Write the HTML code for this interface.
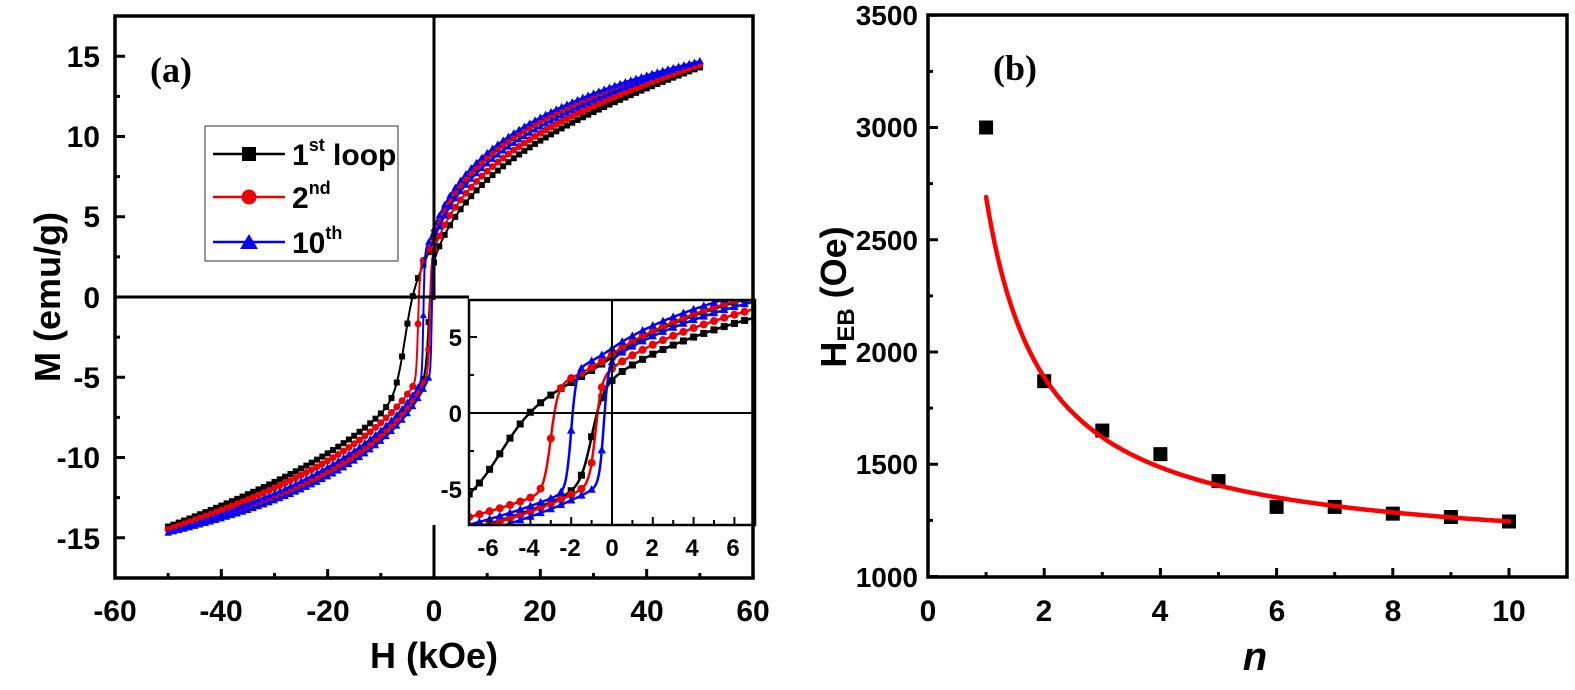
<!DOCTYPE html>
<html><head><meta charset="utf-8"><style>
html,body{margin:0;padding:0;background:#fff;}
svg{display:block;}
text{font-family:"Liberation Sans",Arial,sans-serif;font-weight:bold;fill:#000;}
</style></head><body>
<svg id="s" width="1575" height="690" viewBox="0 0 1575 690" xmlns="http://www.w3.org/2000/svg">
<defs>
<clipPath id="ca"><rect x="115" y="16" width="638" height="562"/></clipPath>
<clipPath id="ci"><rect x="469" y="300" width="284" height="225"/></clipPath>
</defs>
<g id="main" clip-path="url(#ca)"></g>
<rect x="469" y="300" width="286" height="225" fill="#fff"/>
<g id="inset" clip-path="url(#ci)"></g>
<g id="axes"></g>
<g id="pb"></g>

<text x="150" y="82" style="font-family:'Liberation Serif',serif;font-size:36px">(a)</text>
<g font-size="30" text-anchor="end">
<text x="100" y="67">15</text>
<text x="100" y="147">10</text>
<text x="100" y="227">5</text>
<text x="100" y="308">0</text>
<text x="100" y="388">-5</text>
<text x="100" y="468">-10</text>
<text x="100" y="549">-15</text>
</g>
<g font-size="30" text-anchor="middle">
<text x="115" y="621">-60</text>
<text x="221" y="621">-40</text>
<text x="328" y="621">-20</text>
<text x="434" y="621">0</text>
<text x="540" y="621">20</text>
<text x="647" y="621">40</text>
<text x="753" y="621">60</text>
</g>
<text x="434" y="668" font-size="36" text-anchor="middle">H (kOe)</text>
<text transform="translate(60,297) rotate(-90)" font-size="36" text-anchor="middle">M (emu/g)</text>
<g font-size="24" text-anchor="middle">
<text x="488" y="556">-6</text>
<text x="529" y="556">-4</text>
<text x="570" y="556">-2</text>
<text x="612" y="556">0</text>
<text x="652" y="556">2</text>
<text x="692" y="556">4</text>
<text x="733" y="556">6</text>
</g>
<g font-size="24" text-anchor="end">
<text x="462" y="346">5</text>
<text x="462" y="422">0</text>
<text x="462" y="498">-5</text>
</g>
<rect x="205" y="126" width="193" height="135" fill="#fff" stroke="#333" stroke-width="1"/>
<line x1="213" y1="154" x2="285" y2="154" stroke="#000" stroke-width="2.5"/>
<rect x="242" y="147" width="14" height="14" fill="#000"/>
<line x1="213" y1="197" x2="285" y2="197" stroke="#e00" stroke-width="2.5"/>
<circle cx="249" cy="197" r="7.5" fill="#e00"/>
<line x1="213" y1="242" x2="285" y2="242" stroke="#00f" stroke-width="2.5"/>
<polygon points="249,234 258,249 240,249" fill="#00f"/>
<text x="292" y="165" font-size="30">1<tspan font-size="18" dy="-14">st</tspan><tspan font-size="30" dy="14"> loop</tspan></text>
<text x="292" y="208" font-size="30">2<tspan font-size="18" dy="-14">nd</tspan></text>
<text x="292" y="253" font-size="30">10<tspan font-size="18" dy="-14">th</tspan></text>

<text x="993" y="80" style="font-family:'Liberation Serif',serif;font-size:36px">(b)</text>
<g font-size="28" text-anchor="end">
<text x="918" y="25">3500</text>
<text x="918" y="137">3000</text>
<text x="918" y="250">2500</text>
<text x="918" y="362">2000</text>
<text x="918" y="474">1500</text>
<text x="918" y="587">1000</text>
</g>
<g font-size="30" text-anchor="middle">
<text x="928" y="621">0</text>
<text x="1044" y="621">2</text>
<text x="1160" y="621">4</text>
<text x="1277" y="621">6</text>
<text x="1393" y="621">8</text>
<text x="1509" y="621">10</text>
</g>
<text x="1255" y="670" font-size="40" font-style="italic" text-anchor="middle">n</text>
<text transform="translate(846,297) rotate(-90)" font-size="36" text-anchor="middle">H<tspan font-size="24" dy="8">EB</tspan><tspan font-size="36" dy="-8"> (Oe)</tspan></text>
</svg>
<script>
const NS="http://www.w3.org/2000/svg";
function el(p,t,a){const e=document.createElementNS(NS,t);for(const k in a)e.setAttribute(k,a[k]);p.appendChild(e);return e;}
const main=document.getElementById('main'),ins=document.getElementById('inset'),ax=document.getElementById('axes'),pb=document.getElementById('pb');
const ax0=434,asx=5.317,ay0=297,asy=16.05;
const AX=h=>ax0+h*asx, AY=m=>ay0-m*asy;
const ix0=612,isx=20.4,iy0=413,isy=15.2;
const IX=h=>ix0+h*isx, IY=m=>iy0-m*isy;
const h0=3,p=0.2,k=11.7,c0=Math.pow(h0,p);
function G(h,sc){const s=Math.sign(h);return s*sc*k*(Math.pow(Math.abs(h)+h0,p)-c0);}
const loops=[
 {c:'#000',m:'sq',J:3.0,sc:1.0,Hd:-5.5,wd:1.8,Hu:-1.0,wu:0.55,o:1.4},
 {c:'#e00',m:'ci',J:3.4,sc:0.98,Hd:-3.0,wd:0.35,Hu:-0.8,wu:0.3,o:0.9},
 {c:'#00f',m:'tr',J:3.9,sc:0.955,Hd:-2.0,wd:0.25,Hu:-0.4,wu:0.22,o:0.7},
];
function op(L,h){return L.o/2*Math.max(0,1-(h/50)*(h/50));}
function Md(L,h){return G(h,L.sc)+L.J*Math.tanh((h-L.Hd)/L.wd)+op(L,h);}
function Mu(L,h){return G(h,L.sc)+L.J*Math.tanh((h-L.Hu)/L.wu)-op(L,h);}
function marker(g,L,x,y,s){
 if(L.m==='sq')el(g,'rect',{x:x-s/2,y:y-s/2,width:s,height:s,fill:L.c});
 else if(L.m==='ci')el(g,'circle',{cx:x,cy:y,r:s/2+0.5,fill:L.c});
 else el(g,'polygon',{points:`${x},${y-s*0.65} ${x+s*0.6},${y+s*0.45} ${x-s*0.6},${y+s*0.45}`,fill:L.c});
}
function drawLoop(g,L,X,Y,a,b,step,ms,lw){
 for(const f of [Md,Mu]){
  let d='';
  for(let h=a;h<=b+1e-9;h+=0.05){d+=(d?'L':'M')+X(h).toFixed(1)+','+Y(f(L,h)).toFixed(1);}
  el(g,'path',{d:d,fill:'none',stroke:L.c,'stroke-width':lw});
  for(let h=a;h<=b+1e-9;h+=step)marker(g,L,X(h),Y(f(L,h)),ms);
 }
}
for(const L of loops)drawLoop(main,L,AX,AY,-50,50,1,6,2);
for(const L of loops)drawLoop(ins,L,IX,IY,-7.5,7.5,0.5,7,2.5);
el(ins,'line',{x1:469,y1:iy0,x2:755,y2:iy0,stroke:'#000','stroke-width':2});
el(ins,'line',{x1:ix0,y1:300,x2:ix0,y2:525,stroke:'#000','stroke-width':2});
el(ax,'line',{x1:115,y1:ay0,x2:469,y2:ay0,stroke:'#000','stroke-width':3});
el(ax,'line',{x1:ax0,y1:16,x2:ax0,y2:300,stroke:'#000','stroke-width':3});
el(ax,'line',{x1:ax0,y1:525,x2:ax0,y2:578,stroke:'#000','stroke-width':3});
el(ax,'rect',{x:469,y:300,width:286,height:225,fill:'none',stroke:'#000','stroke-width':2.5});
for(let h=-7;h<=7;h++){const x=IX(h);el(ax,'line',{x1:x,y1:525,x2:x,y2:h%2===0?517:520,stroke:'#000','stroke-width':2});}
for(let m=-5;m<=5;m+=2.5){const y=IY(m);el(ax,'line',{x1:469,y1:y,x2:m%5===0?477:474,y2:y,stroke:'#000','stroke-width':2});}
el(ax,'rect',{x:115,y:16,width:638,height:562,fill:'none',stroke:'#000','stroke-width':3.5});
for(let h=-60;h<=60;h+=10){const x=AX(h);el(ax,'line',{x1:x,y1:578,x2:x,y2:h%20===0?569:573,stroke:'#000','stroke-width':3});}
for(let m=-15;m<=15;m+=2.5){const y=AY(m);el(ax,'line',{x1:115,y1:y,x2:m%5===0?125:120,y2:y,stroke:'#000','stroke-width':3});}
const bx0=928,bsx=58.1,by2000=352,bsy=0.2245;
const BX=n=>bx0+n*bsx, BY=v=>by2000-(v-2000)*bsy;
el(pb,'rect',{x:928,y:15,width:639,height:562,fill:'none',stroke:'#000','stroke-width':3.5});
for(let n=1;n<=10;n++){const x=BX(n);el(pb,'line',{x1:x,y1:577,x2:x,y2:n%2===0?568:572,stroke:'#000','stroke-width':3});}
for(let v=1000;v<=3500;v+=250){const y=BY(v);el(pb,'line',{x1:928,y1:y,x2:v%500===0?938:933,y2:y,stroke:'#000','stroke-width':3});}
const data=[3000,1870,1650,1545,1425,1310,1310,1280,1265,1245];
let d='';for(let n=1;n<=10.001;n+=0.05){d+=(d?'L':'M')+BX(n).toFixed(1)+','+BY(1085+1605/n).toFixed(1);}
data.forEach((v,i)=>{const x=BX(i+1),y=BY(v);el(pb,'rect',{x:x-7,y:y-7,width:14,height:14,fill:'#000'});});
el(pb,'path',{d:d,fill:'none',stroke:'#f00','stroke-width':4.5,'stroke-linecap':'round'});
</script>
</body></html>
